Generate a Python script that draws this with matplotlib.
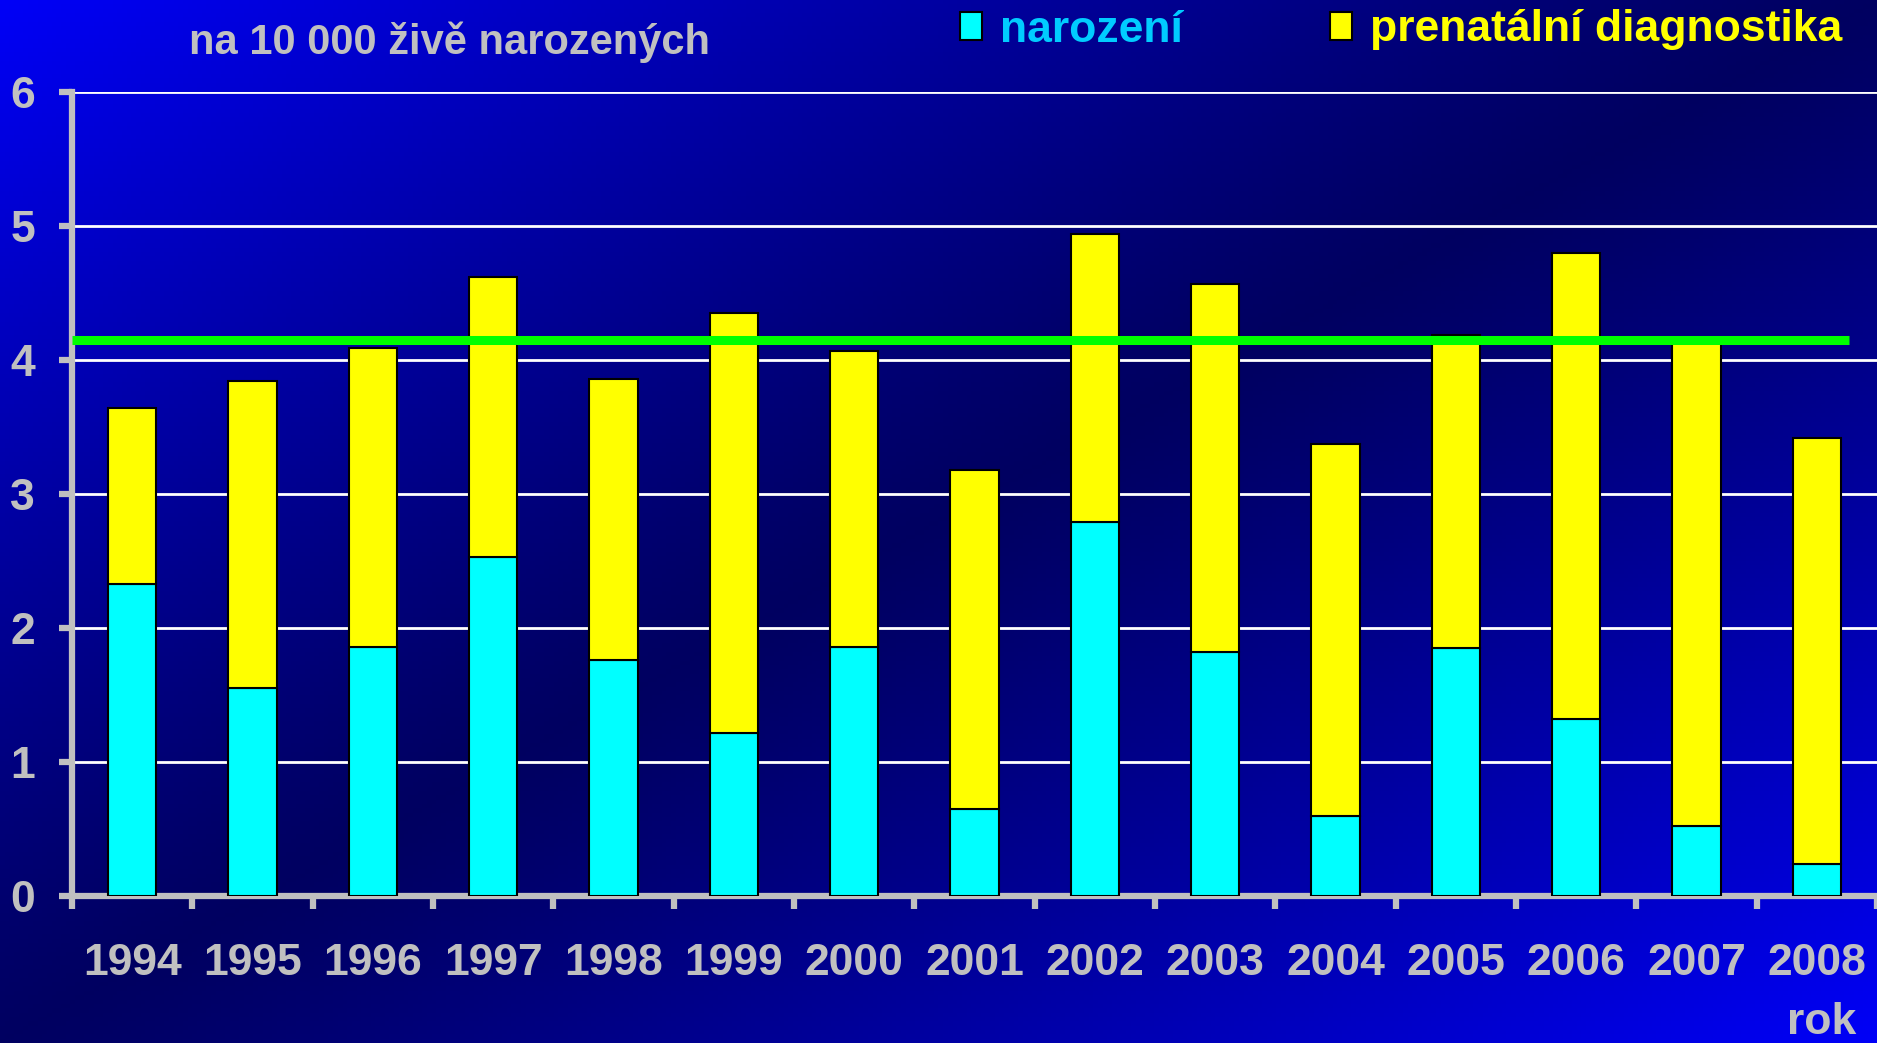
import numpy as np
import matplotlib
matplotlib.use('Agg')
import matplotlib.pyplot as plt

plt.rcParams['font.family'] = ['Liberation Sans', 'DejaVu Sans']
plt.rcParams['font.weight'] = 'bold'

roky = ['1994', '1995', '1996', '1997', '1998', '1999', '2000', '2001',
        '2002', '2003', '2004', '2005', '2006', '2007', '2008']
narozeni = [2.33, 1.55, 1.86, 2.53, 1.76, 1.22, 1.86, 0.65, 2.79, 1.82, 0.60, 1.85, 1.32, 0.52, 0.24]
prenatalni = [1.31, 2.29, 2.23, 2.09, 2.10, 3.13, 2.21, 2.53, 2.15, 2.75, 2.77, 2.34, 3.48, 3.63, 3.18]
prumer = 4.15

W, H = 1877, 1043
fig = plt.figure(figsize=(W / 100, H / 100), dpi=100)

# pozadi - diagonalni gradient (svetla modra v rozich, tmava uprostred)
bg = fig.add_axes([0, 0, 1, 1], zorder=-10)
xx, yy = np.meshgrid(np.linspace(0, 1, 400), np.linspace(0, 1, 240))
t = np.abs((xx + yy) - 1.0)
t = t ** 1.2
img = np.zeros((240, 400, 3))
img[..., 2] = 0.38 + (0.97 - 0.38) * t
bg.imshow(img, aspect='auto', extent=[0, 1, 1, 0])
bg.axis('off')

gray = '#C0C0C0'
ax = fig.add_axes([72 / W, 1 - 896 / H, 1 - 72 / W, (896 - 92) / H])
ax.set_facecolor('none')

x = np.arange(len(roky))
b1 = ax.bar(x, narozeni, width=0.4, color='#00FFFF', edgecolor='black', linewidth=1.5, zorder=3)
b2 = ax.bar(x, prenatalni, width=0.4, bottom=narozeni, color='#FFFF00', edgecolor='black',
            linewidth=1.5, zorder=3)
ax.hlines(prumer, -0.5, 14.27, color='#00FF00', linewidth=6.5, zorder=4)

ax.set_xlim(-0.5, 14.5)
ax.set_ylim(0, 6)
ax.set_yticks(range(7))
ax.yaxis.grid(True, color='white', linewidth=2)
ax.set_axisbelow(True)

ax.set_xticks(x)
ax.set_xticklabels(roky)
ax.set_xticks(np.arange(-0.5, 15, 1), minor=True)
ax.tick_params(axis='x', which='major', length=0, pad=34, labelsize=32, labelcolor=gray)
ax.tick_params(axis='x', which='minor', length=9.5, width=4.5, color=gray, direction='out')
ax.tick_params(axis='y', length=9.5, width=4.5, color=gray, pad=17, labelsize=32, labelcolor=gray)
for lab in ax.get_xticklabels() + ax.get_yticklabels():
    lab.set_fontweight('bold')

for s in ['top', 'right']:
    ax.spines[s].set_visible(False)
for s in ['left', 'bottom']:
    ax.spines[s].set_color(gray)
    ax.spines[s].set_linewidth(4.5)

fig.text(189 / W, 1 - 42 / H, 'na 10 000 živě narozených', color=gray, fontsize=30,
         fontweight='bold', ha='left', va='center')
fig.text(1822 / W, 1 - 1023 / H, 'rok', color=gray, fontsize=32, fontweight='bold',
         ha='center', va='center')

leg = ax.legend([b1, b2], ['narození', 'prenatální diagnostika'], ncol=2, frameon=False,
                loc='center left', bbox_to_anchor=(960 / W, 1 - 30 / H),
                bbox_transform=fig.transFigure, borderaxespad=0, borderpad=0,
                handlelength=0.5, handleheight=0.6, handletextpad=0.4, columnspacing=3.3,
                prop={'size': 32, 'weight': 'bold'}, labelcolor=['#00CCFF', '#FFFF00'])

fig.savefig('out.png', dpi=100)
